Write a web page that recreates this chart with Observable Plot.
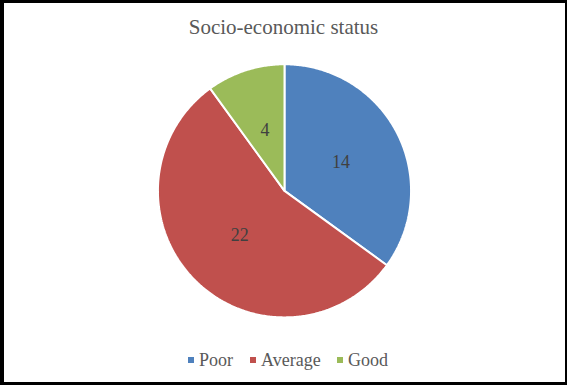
<!DOCTYPE html>
<html>
<head>
<meta charset="utf-8">
<script src="https://cdn.jsdelivr.net/npm/d3@7"></script>
<script src="https://cdn.jsdelivr.net/npm/@observablehq/plot@0.6"></script>
<style>
  html, body { margin: 0; padding: 0; background: #fff; }
  #frame { position: relative; width: 567px; height: 385px; box-sizing: border-box;
    border-style: solid; border-color: #000; border-width: 3px 2px 3px 4px; overflow: hidden; }
  #chart { position: absolute; left: -4px; top: -3px; }
  #title { position: absolute; left: -4px; width: 567px; top: 14px; text-align: center;
    font-family: "Liberation Serif", serif; font-size: 21px; color: #595959; line-height: 1; }
  #legend { position: absolute; top: 346px; left: 0; width: 567px; height: 22px;
    font-family: "Liberation Serif", serif; font-size: 18px; color: #595959; }
  .item { position: absolute; top: 0; display: flex; align-items: center; line-height: 22px; }
  .sw { width: 6px; height: 6px; margin-right: 5px; }
</style>
</head>
<body>
<div id="frame">
  <div id="title"></div>
  <div id="chart"></div>
  <div id="legend"></div>
</div>
<script>
const title = "Socio-economic status";
const categories = ["Poor", "Average", "Good"];
const values = [14, 22, 4];
const colors = ["#4F81BD", "#C0504D", "#9BBB59"];

const W = 567, H = 385, cx = 285, cy = 191, R = 127;

const pie = d3.pie().sort(null).value(d => d.value);
const arcs = pie(categories.map((c, i) => ({cat: c, value: values[i]})));

// polygon points for each slice (unit radius), angle clockwise from top
const pts = [];
for (const a of arcs) {
  pts.push({cat: a.data.cat, x: 0, y: 0});
  const n = Math.max(2, Math.ceil((a.endAngle - a.startAngle) / 0.01));
  for (let k = 0; k <= n; k++) {
    const t = a.startAngle + (a.endAngle - a.startAngle) * k / n;
    pts.push({cat: a.data.cat, x: Math.sin(t), y: Math.cos(t)});
  }
}
const labels = arcs.map(a => {
  const m = (a.startAngle + a.endAngle) / 2;
  return {cat: a.data.cat, value: a.data.value, x: 0.5 * Math.sin(m), y: 0.5 * Math.cos(m)};
});

const plot = Plot.plot({
  width: W, height: H,
  margin: 0,
  x: {domain: [-cx / R, (W - cx) / R], axis: null},
  y: {domain: [-(H - cy) / R, cy / R], axis: null},
  color: {domain: categories, range: colors},
  style: {background: "transparent"},
  marks: [
    Plot.line(pts, {x: "x", y: "y", z: "cat", fill: "cat", stroke: "white", strokeWidth: 2,
      curve: "linear-closed", strokeLinejoin: "miter"}),
    Plot.text(labels, {x: "x", y: "y", text: d => String(d.value), fill: "#404040",
      fontSize: 18, fontFamily: "Liberation Serif, serif"})
  ]
});
document.getElementById("chart").appendChild(plot);
document.getElementById("title").textContent = title;

const lefts = [184, 246, 333];
const leg = document.getElementById("legend");
categories.forEach((c, i) => {
  const it = document.createElement("div");
  it.className = "item";
  it.style.left = lefts[i] + "px";
  const sw = document.createElement("span");
  sw.className = "sw"; sw.style.background = colors[i];
  const tx = document.createElement("span");
  tx.textContent = c;
  it.appendChild(sw); it.appendChild(tx);
  leg.appendChild(it);
});
</script>
</body>
</html>
